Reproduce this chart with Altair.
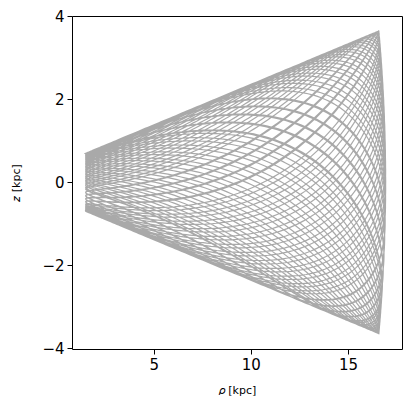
import numpy as np
import pandas as pd
import altair as alt

# Values
rho_limits = [1.50, 16.94]        # peri / apo of the orbit in rho [kpc]
z_edge_at_rho = [0.70, 3.65]      # |z| envelope at rho_min and rho_max [kpc]
rho_corner_shrink = [0.35]        # apocentre boundary bows in by this at |z| max
n_radial_periods = [50]
freq_ratio = [0.67333]            # vertical / radial frequency
time_warp = [0.5]

x_ticks = [5, 10, 15]
y_ticks = [-4, -2, 0, 2, 4]
x_domain = [0.795, 17.78]
y_domain = [-4.02, 4.01]

# build orbit table
rmin, rmax = rho_limits
N = n_radial_periods[0]
eta = np.linspace(0, 2 * np.pi * N, N * 260)
theta_r = eta - time_warp[0] * np.sin(eta)
R = 0.5 * (rmin + rmax) - 0.5 * (rmax - rmin) * np.cos(eta)
v = np.cos(freq_ratio[0] * theta_r + 0.3)
slope = (z_edge_at_rho[1] - z_edge_at_rho[0]) / (rmax - rmin)
env = z_edge_at_rho[0] + slope * (R - rmin)
z = v * env
rho = R - rho_corner_shrink[0] * v ** 2 * (R - rmin) / (rmax - rmin)

df = pd.DataFrame({"i": np.arange(len(rho)), "rho": np.round(rho, 3), "z": np.round(z, 3)})

chart = alt.Chart(df).mark_line(color="#a9a9a9", strokeWidth=1.2, clip=True).encode(
    x=alt.X("rho:Q", scale=alt.Scale(domain=x_domain, nice=False, zero=False),
            axis=alt.Axis(values=x_ticks, title="𝜌 [kpc]")),
    y=alt.Y("z:Q", scale=alt.Scale(domain=y_domain, nice=False, zero=False),
            axis=alt.Axis(values=y_ticks, title="𝑧 [kpc]",
                          labelExpr="replace(datum.label, '-', '−')")),
    order="i:Q",
).properties(
    width=330, height=333,
    autosize=alt.AutoSizeParams(type="none"),
    padding={"left": 64, "top": 8, "right": 1, "bottom": 54},
).configure_view(
    stroke="black", strokeWidth=1
).configure_axis(
    grid=False, domain=False, tickColor="black", tickSize=5, tickWidth=1,
    labelColor="black", labelFont="DejaVu Sans", labelFontSize=15, labelPadding=3,
    titleFont="DejaVu Sans", titleFontSize=11, titleFontWeight="normal", titleColor="black",
).configure_axisX(titlePadding=12).configure_axisY(titlePadding=20)

chart.save("out.html", embed_options={"renderer": "svg", "actions": False})
